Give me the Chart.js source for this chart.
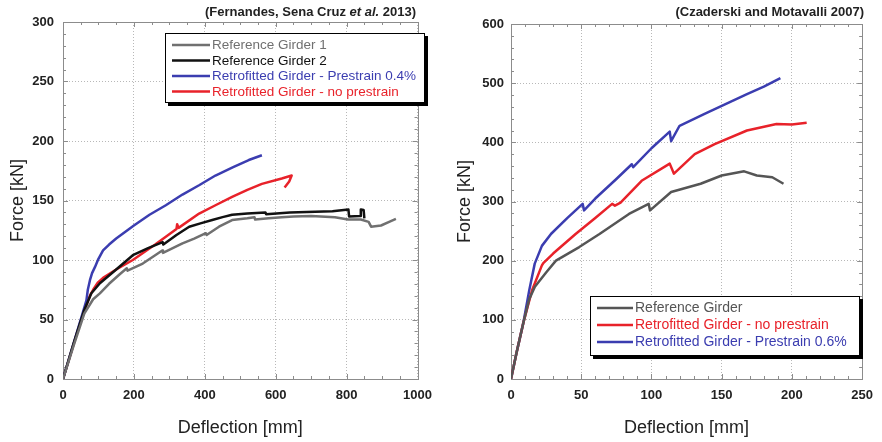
<!DOCTYPE html>
<html>
<head>
<meta charset="utf-8">
<script src="https://cdn.jsdelivr.net/npm/chart.js@4.4.1/dist/chart.umd.min.js"></script>
<style>
  body { margin: 0; background: #fff; font-family: 'Liberation Sans', Arial, sans-serif; }
  .panel { position: absolute; top: 0; width: 441px; height: 442px; }
  .note { position: absolute; top: 4px; font-size: 13px; font-weight: bold; color: #222; white-space: nowrap; }
</style>
</head>
<body>
<div class="panel" style="left:0">
  <canvas id="left" width="441" height="442"></canvas>
  <div class="note" style="right:25px">(Fernandes, Sena Cruz <i>et al.</i> 2013)</div>
</div>
<div class="panel" style="left:441px">
  <canvas id="right" width="441" height="442"></canvas>
  <div class="note" style="right:18px">(Czaderski and Motavalli 2007)</div>
</div>
<script>
// Left panel - deflection [mm] / force [kN]
const ref1X = [0, 30, 60, 85, 104, 130, 160, 180, 182, 225, 260, 280, 282, 337, 370, 403, 405, 440, 477, 520, 540, 542, 580, 617, 650, 700, 767, 804, 840, 862, 869, 897, 920, 939];
const ref1F = [0, 28, 55, 67, 72, 80, 88, 93, 91, 97, 104, 108, 106, 114, 118, 122.5, 121, 128, 133.6, 135, 136, 134, 135, 136, 136.5, 137, 136, 134, 134, 132, 128, 129, 132, 134.5];

const ref2X = [0, 30, 60, 80, 104, 150, 197, 240, 281, 283, 320, 356, 390, 421, 450, 477, 520, 571, 573, 640, 711, 760, 805, 807, 838, 840, 848, 850];
const ref2F = [0, 30, 58, 72, 80.5, 92, 104, 110, 115, 113, 121, 128, 131, 133.6, 136, 138, 139, 140, 138.5, 140, 140.6, 141, 142.5, 136.5, 137, 142.5, 142, 135];

const pre04X = [0, 40, 60, 66, 70, 76, 82, 90, 100, 113, 130, 150, 200, 244, 290, 337, 385, 430, 480, 524, 561];
const pre04F = [0, 40, 60, 66, 75, 83, 89, 94, 101, 108, 113, 118, 129, 138, 146, 155, 163, 171, 178, 184, 188];

const noPreLX = [0, 40, 66, 76, 85, 98, 113, 150, 197, 260, 320, 322, 326, 384, 430, 477, 520, 561, 617, 645, 638, 625];
const noPreLF = [0, 39, 62, 70, 75, 81, 85, 92, 100, 113, 126, 130, 127, 139, 146, 153, 159, 164, 168.5, 171, 166, 161];

// Right panel
const refRX = [0, 4, 8.7, 13, 17, 25, 32, 48.6, 63, 84, 98, 99, 114, 135, 150, 166, 175, 186, 194];
const refRF = [0, 45, 94, 135, 156, 180, 200, 223, 245, 279, 296, 285, 316, 330, 344, 351, 344, 341, 330];

const noPreRX = [0, 4, 8.7, 15, 22, 23, 30, 46, 60, 72, 74, 78, 93, 113, 116, 130.8, 145, 168, 189, 200, 210.5];
const noPreRF = [0, 45, 94, 150, 192, 196, 212, 245, 272, 296, 293, 298, 335, 364, 347, 380, 397, 420, 431, 430, 433];

const pre06X = [0, 4, 8.7, 13, 16.9, 22, 28.6, 40, 51, 52, 60, 75, 86, 87, 100, 113, 114, 120, 137.8, 155, 168, 180, 191.8];
const pre06F = [0, 45, 94, 150, 195, 225, 245.5, 272, 296, 285, 305, 338, 363, 358, 390, 418, 402, 428, 448, 467, 481.5, 494, 508.5];

const leftTicksX = [0, 1000, 200];   // min, max, step
const leftTicksY = [0, 300, 50];
const rightTicksX = [0, 250, 50];
const rightTicksY = [0, 600, 100];

Chart.defaults.font.family = "'Liberation Sans', Arial, sans-serif";

function series(label, xs, ys, color) {
  return {
    label: label,
    data: xs.map((v, i) => ({ x: v, y: ys[i] })),
    borderColor: color,
    borderWidth: 2.5,
    borderJoinStyle: 'round',
    pointRadius: 0,
    tension: 0,
    fill: false
  };
}

// box around the plot with inward major/minor ticks on all four sides
const frameTicks = {
  id: 'frameTicks',
  beforeDatasetsDraw(chart, args, opts) {
    const { ctx, chartArea: a, scales } = chart;
    ctx.save();
    ctx.strokeStyle = '#8c8c8c';
    ctx.lineWidth = 1;
    ctx.strokeRect(Math.round(a.left) + 0.5, Math.round(a.top) + 0.5, Math.round(a.right - a.left), Math.round(a.bottom - a.top));
    ctx.beginPath();
    const xs = scales.x, ys = scales.y;
    const xStep = opts.xStep / opts.xSub;
    for (let i = 0; xs.min + i * xStep <= xs.max + 1e-9; i++) {
      const px = Math.round(xs.getPixelForValue(xs.min + i * xStep)) + 0.5;
      const len = i % opts.xSub === 0 ? 5 : 3;
      ctx.moveTo(px, a.bottom); ctx.lineTo(px, a.bottom - len);
      ctx.moveTo(px, a.top); ctx.lineTo(px, a.top + len);
    }
    const yStep = opts.yStep / opts.ySub;
    for (let i = 0; ys.min + i * yStep <= ys.max + 1e-9; i++) {
      const py = Math.round(ys.getPixelForValue(ys.min + i * yStep)) + 0.5;
      const len = i % opts.ySub === 0 ? 5 : 3;
      ctx.moveTo(a.left, py); ctx.lineTo(a.left + len, py);
      ctx.moveTo(a.right, py); ctx.lineTo(a.right - len, py);
    }
    ctx.stroke();
    ctx.restore();
  }
};

// framed legend with a drop shadow, text coloured like its line
const boxLegend = {
  id: 'boxLegend',
  afterDatasetsDraw(chart, args, opts) {
    const { ctx } = chart;
    const sets = opts.order.map(i => chart.data.datasets[i]);
    ctx.save();
    ctx.fillStyle = '#000';
    ctx.fillRect(opts.left + 3, opts.top + 3, opts.width, opts.height);
    ctx.fillStyle = '#fff';
    ctx.fillRect(opts.left, opts.top, opts.width, opts.height);
    ctx.strokeStyle = '#000';
    ctx.lineWidth = 1;
    ctx.strokeRect(opts.left + 0.5, opts.top + 0.5, opts.width - 1, opts.height - 1);
    ctx.font = opts.fontSize + "px 'Liberation Sans', Arial, sans-serif";
    ctx.textBaseline = 'middle';
    sets.forEach((ds, i) => {
      const y = opts.top + opts.firstRow + i * opts.rowGap;
      ctx.strokeStyle = ds.borderColor;
      ctx.lineWidth = 2.5;
      ctx.beginPath();
      ctx.moveTo(opts.left + opts.lineStart, y);
      ctx.lineTo(opts.left + opts.lineEnd, y);
      ctx.stroke();
      ctx.fillStyle = ds.borderColor;
      ctx.fillText(ds.label, opts.left + opts.lineEnd + 2, y + 0.5);
    });
    ctx.restore();
  }
};

function makeChart(id, datasets, tx, ty, lay, legend) {
  const tickFont = { size: 13, weight: 'bold' };
  return new Chart(document.getElementById(id), {
    type: 'line',
    data: { datasets: datasets },
    options: {
      responsive: false,
      animation: false,
      events: [],
      layout: { padding: { top: lay.top, right: lay.right, left: 0, bottom: 0 } },
      plugins: {
        legend: { display: false },
        tooltip: { enabled: false },
        frameTicks: { xStep: tx[2], xSub: lay.xSub, yStep: ty[2], ySub: lay.ySub },
        boxLegend: legend
      },
      scales: {
        x: {
          type: 'linear', min: tx[0], max: tx[1],
          ticks: { stepSize: tx[2], font: tickFont, color: '#222', padding: 9, maxRotation: 0, callback: v => String(v) },
          grid: { color: '#b8b8b8', drawTicks: false },
          border: { display: false, dash: [1, 2] },
          title: { display: true, text: 'Deflection [mm]', color: '#222', font: { size: 18 }, padding: { top: 0, bottom: 3 } },
          afterFit(s) { s.height = 63; }
        },
        y: {
          type: 'linear', min: ty[0], max: ty[1],
          ticks: { stepSize: ty[2], font: tickFont, color: '#222', padding: lay.yPad, callback: v => String(v) },
          grid: { color: '#b8b8b8', drawTicks: false },
          border: { display: false, dash: [1, 2] },
          title: { display: true, text: 'Force [kN]', color: '#222', font: { size: 18 }, padding: { top: lay.yTitle, bottom: 0 } },
          afterFit(s) { s.width = lay.yWidth; }
        }
      }
    },
    plugins: [frameTicks, boxLegend]
  });
}

makeChart('left', [
  series('Reference Girder 1', ref1X, ref1F, '#707070'),
  series('Reference Girder 2', ref2X, ref2F, '#111111'),
  series('Retrofitted Girder - Prestrain 0.4%', pre04X, pre04F, '#3b3db0'),
  series('Retrofitted Girder - no prestrain', noPreLX, noPreLF, '#e8222a')
], leftTicksX, leftTicksY,
  { top: 22, right: 21, yWidth: 63, yPad: 9, yTitle: 7, xSub: 4, ySub: 5 },
  { order: [0, 1, 2, 3], left: 165, top: 33, width: 260, height: 70, firstRow: 12, rowGap: 15.5, lineStart: 7, lineEnd: 45, fontSize: 13.5 });

makeChart('right', [
  series('Reference Girder', refRX, refRF, '#555555'),
  series('Retrofitted Girder - no prestrain', noPreRX, noPreRF, '#e8222a'),
  series('Retrofitted Girder - Prestrain 0.6%', pre06X, pre06F, '#3b3db0')
], rightTicksX, rightTicksY,
  { top: 24, right: 16, yWidth: 70, yPad: 7, yTitle: 13, xSub: 5, ySub: 5 },
  { order: [0, 1, 2], left: 149, top: 296, width: 270, height: 60, firstRow: 12, rowGap: 17, lineStart: 7, lineEnd: 43, fontSize: 14 });
</script>
</body>
</html>
